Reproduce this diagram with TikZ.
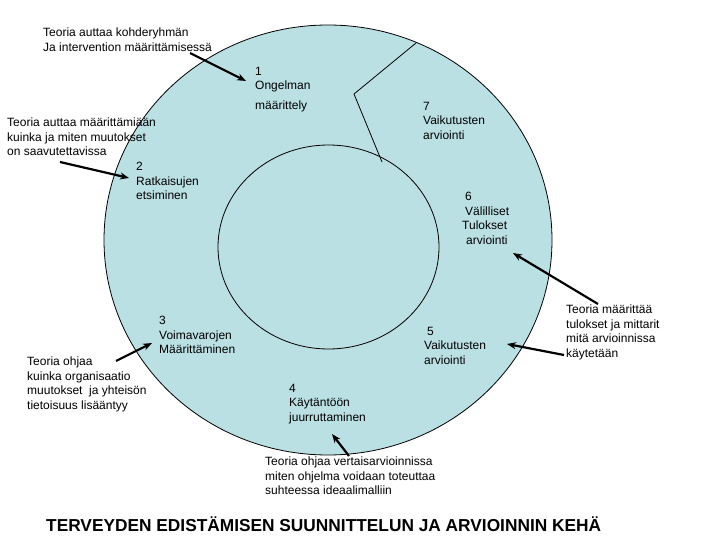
\documentclass[tikz,border=0pt]{standalone}
\usepackage{fontspec}
\setmainfont{Liberation Sans}
\usetikzlibrary{arrows.meta}
\definecolor{cyclefill}{RGB}{187,224,228}
\begin{document}
\begin{tikzpicture}[
    x=1pt, y=-1pt,
    font=\fontsize{12}{14.5}\selectfont,
    stage/.style={anchor=north west, inner sep=0pt, align=left},
    theory/.style={anchor=north west, inner sep=0pt, align=left},
    ring/.style={draw, line width=0.8pt},
    pointer/.style={-{Stealth[length=9pt, width=7pt]}, line width=2.2pt}
]
\useasboundingbox (0,0) rectangle (720,540);
% the cycle
\draw[ring, fill=cyclefill] (328,240) ellipse [x radius=224pt, y radius=215pt];
\draw[ring] (328.5,247) ellipse [x radius=110.5pt, y radius=102pt];
\coordinate (cut1) at (416,43);
\coordinate (cut2) at (354,94);
\coordinate (cut3) at (382,162);
\draw[ring] (cut1) -- (cut2) -- (cut3);

% stages
\node[stage] (s1) at (255,67) {1\\Ongelman\\[5pt]määrittely};
\node[stage] (s2) at (136,162) {2\\Ratkaisujen\\etsiminen};
\node[stage] (s3) at (159,316) {3\\Voimavarojen\\Määrittäminen};
\node[stage] (s4) at (289,384) {4\\Käytäntöön\\juurruttaminen};
\node[stage] (s5) at (424,327) {\hspace{3pt}5\\Vaikutusten\\arviointi};
\node[stage] (s6) at (462,192) {\hspace{3pt}6\\\hspace{3pt}Välilliset\\Tulokset\\\hspace{4pt}arviointi};
\node[stage] (s7) at (423,102) {7\\Vaikutusten\\arviointi};

% theory notes
\node[theory] (t1) at (43,28) {Teoria auttaa kohderyhmän\\Ja intervention määrittämisessä};
\node[theory] (t2) at (7,118) {Teoria auttaa määrittämiään\\kuinka ja miten muutokset\\on saavutettavissa};
\node[theory] (t3) at (27,357) {Teoria ohjaa\\kuinka organisaatio\\muutokset\ \ ja yhteisön\\tietoisuus lisääntyy};
\node[theory] (t4) at (566,305) {Teoria määrittää\\tulokset ja mittarit\\mitä arvioinnissa\\käytetään};
\node[theory] (t5) at (265,457) {Teoria ohjaa vertaisarvioinnissa\\miten ohjelma voidaan toteuttaa\\suhteessa ideaalimalliin};

\node[anchor=west, inner sep=0pt, font=\bfseries\fontsize{17.3}{20}\selectfont] (title) at (46,524)
  {TERVEYDEN EDISTÄMISEN SUUNNITTELUN JA ARVIOINNIN KEHÄ};

% pointers
\coordinate (p1) at (190,53);  \coordinate (q1) at (246,81);
\coordinate (p2) at (60,162);  \coordinate (q2) at (129,178);
\coordinate (p3) at (116,361); \coordinate (q3) at (152,343);
\coordinate (p4) at (598,304); \coordinate (q4) at (513,253);
\coordinate (p5) at (564,355); \coordinate (q5) at (507,344);
\coordinate (p6) at (349,456); \coordinate (q6) at (332,434);
\foreach \a/\b in {p1/q1, p2/q2, p3/q3, p4/q4, p5/q5, p6/q6}
  \draw[pointer] (\a) -- (\b);
\end{tikzpicture}
\end{document}
